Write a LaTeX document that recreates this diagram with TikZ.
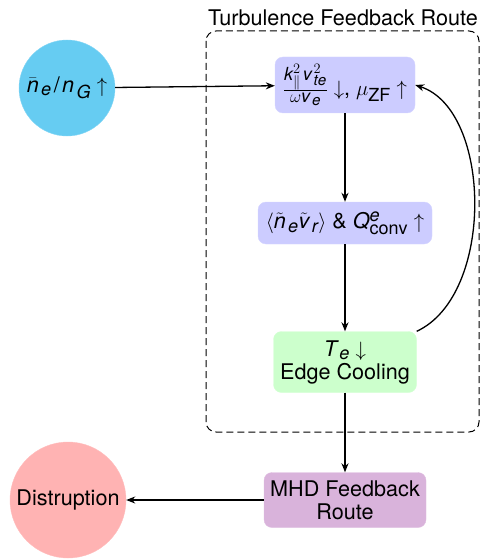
\documentclass[tikz,border=0pt]{standalone}
\usepackage{fontspec}
\setmainfont{TeX Gyre Heros}
\usepackage[italic]{mathastext}
\usetikzlibrary{arrows.meta}
\definecolor{cblue}{HTML}{66CCF2}
\definecolor{cpink}{HTML}{FFB3B3}
\definecolor{clav}{HTML}{CCCCFF}
\definecolor{cgreen}{HTML}{CCFFCC}
\definecolor{cpurp}{HTML}{D9B3DB}
\newcommand{\kk}{\mkern2mu}
\tikzset{
  boxs/.style={rounded corners=8pt, align=center, inner sep=0pt},
  circs/.style={circle, inner sep=0pt, align=center},
  conn/.style={line width=1.3pt, -{Stealth[length=9pt,width=7pt]}},
}
\begin{document}
\begin{tikzpicture}[x=1pt,y=-1pt,font=\fontsize{21.6}{25}\selectfont]
\useasboundingbox (0,0) rectangle (482,559);
\draw[dash pattern=on 7pt off 4pt, line width=1pt, rounded corners=10pt] (206,31) rectangle (479,432);
\node (title) at (343,18) {Turbulence Feedback Route};
\node[circs, fill=cblue, draw=cblue!80!white, minimum size=96pt] (ne) at (67,88) {$\bar{n}\kk_e\kk/\kk n\kk_G\uparrow$};
\node[boxs, fill=clav, draw=clav!85!white, minimum width=140pt, minimum height=56pt] (kz) at (345,85) {$\frac{k_\parallel^2 \kk v\kk_{te}^2}{\omega v\kk_e}\downarrow$, $\mu_{\mathrm{ZF}}\uparrow$};
\node[boxs, fill=clav, draw=clav!85!white, minimum width=174pt, minimum height=42pt] (flux) at (345,223) {$\langle\tilde{n}\kk_e\tilde{v}\kk_r\rangle$ \& $Q^e_{\mathrm{conv}}\uparrow$};
\node[boxs, fill=cgreen, draw=cgreen!85!white, minimum width=143pt, minimum height=61pt] (te) at (345,362) {$T\kk_e\downarrow$\\[-2pt]Edge Cooling};
\node[boxs, fill=cpurp, draw=cpurp!85!white, minimum width=162pt, minimum height=55pt] (mhd) at (345,500) {MHD Feedback\\[-2pt]Route};
\node[circs, fill=cpink, draw=cpink!85!white, minimum size=116pt] (dis) at (68,500) {Distruption};
\draw[conn] (ne) -- (kz);
\draw[conn] (kz) -- (flux);
\draw[conn] (flux) -- (te);
\draw[conn] (te) -- (mhd);
\draw[conn] (mhd) -- (dis);
\draw[conn] (te.north east) .. controls (495,295) and (492,110) .. (kz.east);
\end{tikzpicture}
\end{document}
